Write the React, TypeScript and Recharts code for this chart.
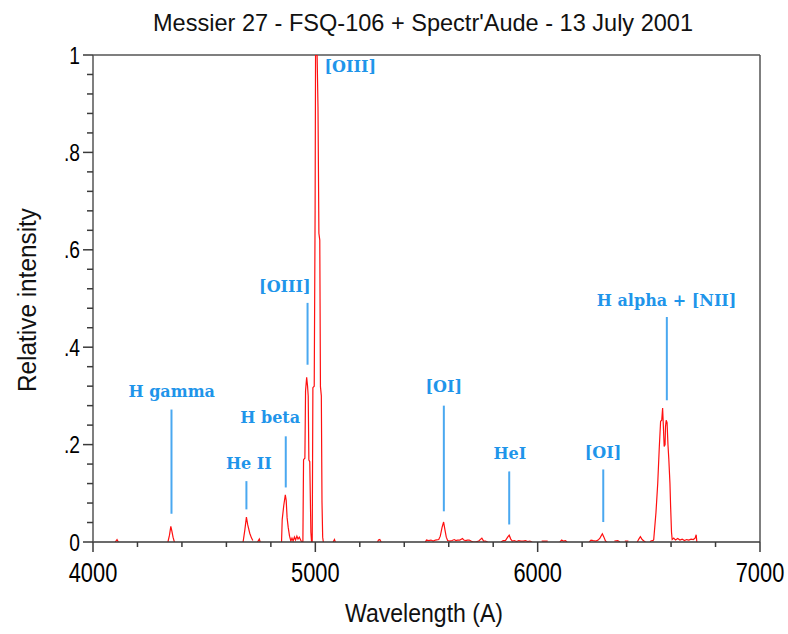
import React from 'react';
import { LineChart, Line, XAxis, YAxis, ReferenceLine, ReferenceDot } from 'recharts';

// spectrum samples (wavelength in A, relative intensity); null = gap, nothing drawn
const WAVELENGTH = [
  4100, 4108, 4114, 4200,
  4337, 4344, 4350, 4355, 4360, 4366, 4500,
  4675, 4683, 4690, 4696, 4705, 4713, 4719, 4730,
  4740, 4748, 4752, 4800,
  4848, 4851, 4858, 4865, 4869, 4873, 4878, 4884, 4890, 4895, 4900, 4906, 4911, 4917, 4922, 4928, 4935, 4941,
  4944, 4947, 4953, 4956, 4961, 4965, 4968, 4971, 4975, 4980, 4983,
  4986, 4989, 4995, 4999, 5001, 5004, 5008, 5012, 5016, 5020, 5023, 5027, 5030, 5033, 5036, 5060,
  5080, 5086, 5090, 5200,
  5280, 5284, 5290, 5296, 5400,
  5495, 5500, 5510, 5520, 5530, 5540, 5555, 5562, 5570, 5577, 5583, 5589, 5595, 5605, 5615, 5625, 5632,
  5640, 5650, 5662, 5668, 5676, 5684, 5692, 5700, 5710, 5720, 5735, 5749, 5757, 5765, 5775, 5800,
  5835, 5845, 5855, 5865, 5872, 5879, 5886, 5895, 5905, 5915, 5925, 5935, 5945, 5955, 5965, 5975, 6000,
  6018, 6030, 6045, 6070,
  6100, 6108, 6115, 6125, 6132, 6180,
  6232, 6240, 6250, 6262, 6272, 6280, 6291, 6298, 6305, 6312, 6330,
  6345, 6360, 6370, 6380,
  6392, 6408, 6430,
  6448, 6455, 6462, 6470, 6478, 6485, 6495,
  6505, 6515, 6519, 6522, 6532, 6540, 6547, 6553, 6558, 6562, 6566, 6569, 6573, 6575, 6578, 6582, 6586,
  6590, 6595, 6598, 6602, 6605, 6612, 6620, 6630, 6640, 6650, 6660, 6670, 6680, 6690, 6700, 6708, 6713, 6716, 6800,
];

const INTENSITY = [
  0, 0.005, 0, null,
  0, 0.014, 0.032, 0.022, 0.01, 0, null,
  0, 0.025, 0.051, 0.035, 0.018, 0.008, 0.003, null,
  0, 0.006, 0, null,
  0, 0.046, 0.075, 0.097, 0.085, 0.05, 0.03, 0.012, 0.002, 0.008, 0.002, 0.01, 0.004, 0.012, 0.006, 0.01, 0.003, 0,
  0, 0.169, 0.172, 0.31, 0.338, 0.32, 0.3, 0.168, 0.165, 0.02, 0,
  0, 0.317, 0.32, 0.681, 1, 1, 1, 0.893, 0.634, 0.62, 0.319, 0.3, 0.081, 0.01, 0, null,
  0, 0.005, 0, null,
  0, 0.004, 0.005, 0, null,
  0, 0.004, 0.003, 0.004, 0.002, 0.004, 0.005, 0.012, 0.03, 0.041, 0.025, 0.01, 0.003, 0.002, 0.003, 0.005, 0.003,
  0.004, 0.004, 0.007, 0.004, 0.003, 0.004, 0.004, 0.002, 0, 0, 0.002, 0.008, 0.002, 0.002, 0, null,
  0, 0.003, 0.003, 0.01, 0.014, 0.006, 0.002, 0.003, 0.001, 0.003, 0.002, 0.002, 0.003, 0.001, 0.002, 0, null,
  0.002, 0.002, 0.002, null,
  0, 0.004, 0.002, 0.003, 0, null,
  0, 0.004, 0.003, 0.002, 0.004, 0.008, 0.017, 0.01, 0.002, 0, null,
  0.002, 0.003, 0, null,
  0.002, 0.002, null,
  0, 0.006, 0.011, 0.005, 0.002, 0, null,
  0.001, 0.003, 0.003, 0.005, 0.06, 0.12, 0.194, 0.248, 0.25, 0.275, 0.23, 0.196, 0.2, 0.237, 0.25, 0.245, 0.2,
  0.169, 0.12, 0.073, 0.02, 0.005, 0.008, 0.004, 0.007, 0.004, 0.006, 0.003, 0.005, 0.004, 0.006, 0.005, 0.008, 0.015, 0, null,
];

const X_TICKS = [4000, 4200, 4400, 4600, 4800, 5000, 5200, 5400, 5600, 5800, 6000, 6200, 6400, 6600, 6800, 7000];
const Y_TICKS = [0, 0.04, 0.08, 0.12, 0.16, 0.2, 0.24, 0.28, 0.32, 0.36, 0.4, 0.44, 0.48, 0.52, 0.56, 0.6, 0.64, 0.68, 0.72, 0.76, 0.8, 0.84, 0.88, 0.92, 0.96, 1];

// line identifications
const LINE_NAMES = ['H gamma', 'He II', 'H beta', '[OIII]', '[OIII]', '[OI]', 'HeI', '[OI]', 'H alpha + [NII]'];
const LABEL_X = [4354, 4701, 4797, 4863, 5157, 5578, 5875, 6294, 6580];
const LABEL_Y = [0.309, 0.161, 0.257, 0.524, 0.976, 0.319, 0.183, 0.185, 0.497];
const MARK_X = [4353, 4690, 4867, 4965, null, 5578, 5872, 6295, 6581];
const MARK_TOP = [0.272, 0.125, 0.217, 0.491, null, 0.28, 0.145, 0.149, 0.462];
const MARK_BOTTOM = [0.058, 0.067, 0.112, 0.364, null, 0.063, 0.036, 0.041, 0.291];

const rows = WAVELENGTH.map((wl, i) => ({ wl, intensity: INTENSITY[i] }));

const BLUE = '#1f95ea';
const AXIS = '#3a3a3a';
const SANS = '"Liberation Sans", Arial, sans-serif';

const XTick = (props: any) => {
  const { x, y, payload } = props;
  const major = payload.value % 1000 === 0;
  return (
    <g>
      <line x1={x} y1={y} x2={x} y2={y + (major ? 10 : 5)} stroke={AXIS} strokeWidth={1.5} />
      {major && (
        <text
          x={0} y={0} textAnchor="middle" fontFamily={SANS} fontSize={28} fill="#000"
          transform={`translate(${x} ${y + 40}) scale(0.78 1)`}
        >
          {payload.value}
        </text>
      )}
    </g>
  );
};

const YTick = (props: any) => {
  const { x, y, payload } = props;
  const v = payload.value;
  const major = Math.abs(v * 5 - Math.round(v * 5)) < 1e-6;
  const label = v === 0 ? '0' : v === 1 ? '1' : '.' + Math.round(v * 10);
  return (
    <g>
      <line x1={x - (major ? 10 : 6)} y1={y} x2={x} y2={y} stroke={AXIS} strokeWidth={1.5} />
      {major && (
        <text
          x={0} y={0} textAnchor="end" fontFamily={SANS} fontSize={24} fill="#000"
          transform={`translate(${x - 13} ${y + 8.5}) scale(0.8 1)`}
        >
          {label}
        </text>
      )}
    </g>
  );
};

export default function App() {
  return (
    <div style={{ position: 'absolute', left: 0, top: 0, width: 788, height: 634, background: '#fff' }}>
      <svg width={788} height={634} style={{ position: 'absolute', left: 0, top: 0 }}>
        <text
          x={423} y={31} textAnchor="middle" fontFamily={SANS} fontSize={24} fill="#111"
          textLength={540} lengthAdjust="spacingAndGlyphs"
        >
          Messier 27 - FSQ-106 + Spectr'Aude - 13 July 2001
        </text>
        <text
          x={424} y={622} textAnchor="middle" fontFamily={SANS} fontSize={25} fill="#111"
          textLength={158} lengthAdjust="spacingAndGlyphs"
        >
          Wavelength (A)
        </text>
        <text
          x={0} y={0} textAnchor="middle" fontFamily={SANS} fontSize={25} fill="#111"
          textLength={184} lengthAdjust="spacingAndGlyphs" transform="translate(36 300) rotate(-90)"
        >
          Relative intensity
        </text>
      </svg>
      <LineChart
        width={788} height={634} data={rows}
        margin={{ top: 55, right: 28, bottom: 0, left: 13 }}
        style={{ position: 'absolute', left: 0, top: 0 }}
      >
        <XAxis
          type="number"
          dataKey="wl"
          domain={[4000, 7000]}
          ticks={X_TICKS}
          interval={0}
          tick={<XTick />}
          tickSize={0}
          tickMargin={0}
          height={92}
          axisLine={{ stroke: AXIS, strokeWidth: 1.5 }}
          allowDataOverflow
        />
        <YAxis
          type="number"
          domain={[0, 1]}
          ticks={Y_TICKS}
          interval={0}
          tick={<YTick />}
          tickSize={0}
          tickMargin={0}
          width={80}
          axisLine={{ stroke: '#555', strokeWidth: 1.5 }}
          allowDataOverflow
        />
        <ReferenceLine y={1} stroke="#555" strokeWidth={1.5} />
        <ReferenceLine x={7000} stroke="#555" strokeWidth={1.5} />
        {LINE_NAMES.map((name, i) =>
          MARK_X[i] === null ? null : (
            <ReferenceLine
              key={'m' + i}
              segment={[{ x: MARK_X[i], y: MARK_TOP[i] }, { x: MARK_X[i], y: MARK_BOTTOM[i] }]}
              stroke="#4aa8f0"
              strokeWidth={2}
            />
          )
        )}
        {LINE_NAMES.map((name, i) => (
          <ReferenceDot
            key={'l' + i}
            x={LABEL_X[i]}
            y={LABEL_Y[i]}
            r={0}
            fill="none"
            stroke="none"
            label={{
              value: name, position: 'center', fill: BLUE, fontSize: 16,
              fontWeight: 700, fontFamily: '"DejaVu Serif", serif',
            }}
          />
        ))}
        <Line
          type="linear"
          dataKey="intensity"
          stroke="#ff1010"
          strokeWidth={1.2}
          dot={false}
          connectNulls={false}
          isAnimationActive={false}
        />
      </LineChart>
    </div>
  );
}
